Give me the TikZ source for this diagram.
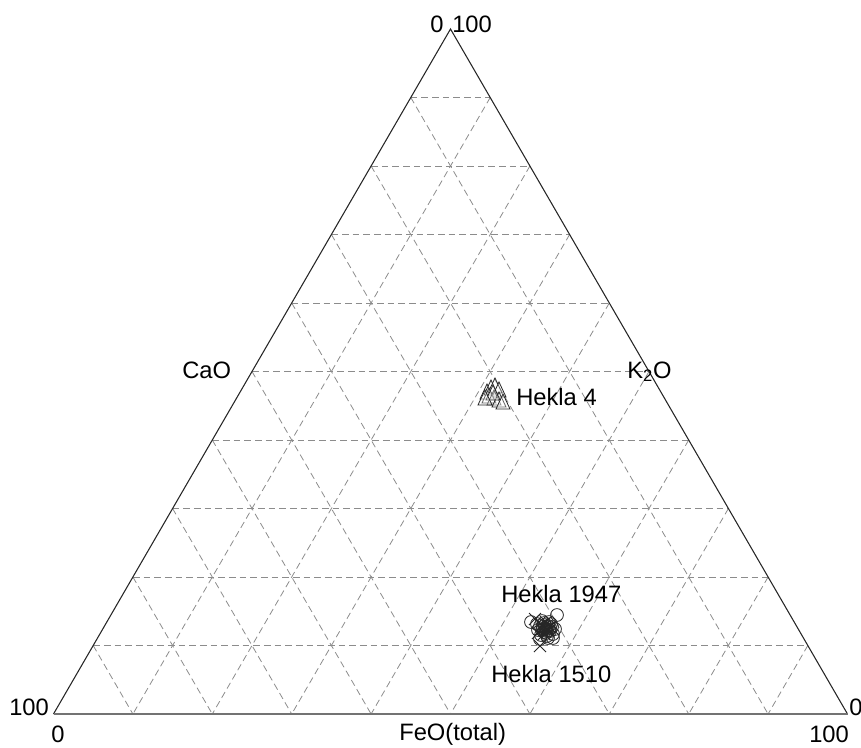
\documentclass[tikz,border=0pt]{standalone}
\usepackage{fontspec}
\setmainfont{Liberation Sans}
\usetikzlibrary{calc}
\begin{document}
\begin{tikzpicture}[x=0.75pt,y=-0.75pt,
 edge/.style={draw=black!85,line width=0.8pt},
 baseline edge/.style={draw=black!55,line width=1.2pt},
 gridline/.style={draw=black!45,line width=0.6pt,dash pattern=on 5pt off 3pt},
 lab/.style={inner sep=0pt,anchor=base west,font=\fontsize{17.8}{20}\selectfont},
 mk/.style={draw=black!85,line width=0.6pt}]
\useasboundingbox (0,0) rectangle (861,747);
\coordinate (L) at (53.5,714);
\coordinate (R) at (847.5,714);
\coordinate (T) at (450.5,29);
\foreach \i in {1,...,9}{
  \pgfmathsetmacro\f{\i/10}
  \draw[gridline] ($(L)!\f!(T)$) -- ($(R)!\f!(T)$);
  \draw[gridline] ($(L)!\f!(T)$) -- ($(L)!\f!(R)$);
  \draw[gridline] ($(R)!\f!(T)$) -- ($(R)!\f!(L)$);
}
\draw[edge] (L) -- (T) -- (R);
\draw[baseline edge] (L) -- (R);
% Hekla 4 triangles
\foreach \ax/\ay in {487/384,491/380,495/378,499/382,489/388,494/390,499/392,503/394,493/385,485/390}{
  \draw[mk,fill=white,fill opacity=0.3] ({\ax-7},{\ay+15}) -- (\ax,\ay) -- ({\ax+7},{\ay+15}) -- cycle;
}
% Hekla 1947 / 1510 circles
\foreach \cx/\cy in {545/628,548/626,542/630,550/631,546/633,540/626,552/627,544/623,549/622,538/630,553/634,547/636,541/635,551/624,543/627,546/629,549/630,544/632,537/624,555/629,548/638,542/621,557/615,531/622,553/638,540/639,545/625,547/631,543/629,550/628}{
  \draw[mk] (\cx,\cy) circle[radius=4.8pt];
}
\foreach \cx/\cy in {535/619,540/646,545/628,548/631,542/625,550/627,538/633,546/622,544/634,547/629}{
  \draw[mk] ({\cx-6},{\cy-6}) -- ({\cx+6},{\cy+6}) ({\cx-6},{\cy+6}) -- ({\cx+6},{\cy-6});
}
% labels
\node[lab] (t0) at (430,32) {0};
\node[lab] (t100) at (452,32) {100};
\node[lab] (l100) at (9,715) {100};
\node[lab] (l0) at (51,742) {0};
\node[lab] (r0) at (849,715) {0};
\node[lab] (r100) at (809,742) {100};
\node[lab] (cao) at (182,378) {CaO};
\node[lab] (k2o) at (627,378) {K\textsubscript{2}O};
\node[lab] (feo) at (399,740) {FeO(total)};
\node[lab] (h4) at (516,405) {Hekla 4};
\node[lab] (h1947) at (501,602) {Hekla 1947};
\node[lab] (h1510) at (491,682) {Hekla 1510};
\end{tikzpicture}
\end{document}
